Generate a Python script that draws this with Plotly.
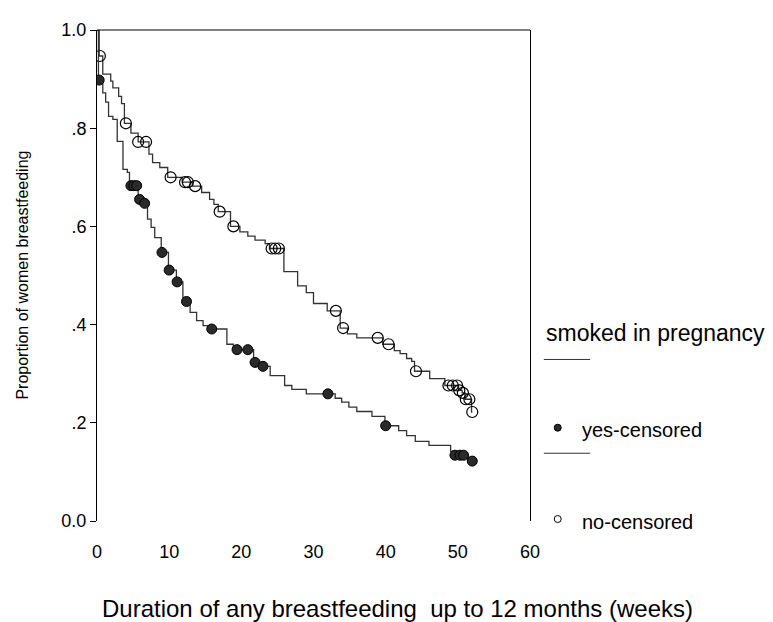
import numpy as np
import plotly.graph_objects as go

# Kaplan-Meier steps (weeks, proportion still breastfeeding)
yes_time = [0, 0.2, 0.8, 1.2, 1.6, 2.2, 2.8, 3.6, 4.2, 4.5, 5.7, 6.3, 7.0, 7.5, 8.0,
            8.9, 9.9, 11.0, 11.9, 12.9, 13.8, 14.7, 15.5, 18.0, 18.9, 21.7, 22.5,
            24.0, 26.0, 27.0, 29.0, 33.0, 33.9, 34.9, 36.0, 38.1, 39.9, 41.8, 42.9,
            44.1, 46.0, 49.0, 49.4, 51.4]
yes_surv = [1.0, 0.898, 0.872, 0.853, 0.824, 0.818, 0.773, 0.716, 0.71, 0.683, 0.655,
            0.647, 0.615, 0.598, 0.577, 0.547, 0.511, 0.487, 0.447, 0.425, 0.408,
            0.398, 0.391, 0.36, 0.349, 0.323, 0.315, 0.296, 0.276, 0.268, 0.259,
            0.25, 0.242, 0.232, 0.223, 0.213, 0.194, 0.184, 0.174, 0.162, 0.154,
            0.142, 0.134, 0.122]
yes_censored = [0.3, 4.7, 5.1, 5.5, 5.9, 6.6, 9.0, 10.0, 11.1, 12.4, 15.9, 19.4, 20.9,
                21.9, 23.0, 32.0, 40.0, 49.6, 50.3, 50.8, 52.0]

no_time = [0, 0.3, 0.8, 1.9, 2.2, 3.0, 3.4, 3.8, 4.7, 5.7, 7.2, 7.7, 8.7, 9.8, 11.8,
           13.2, 14.5, 15.6, 16.2, 16.8, 18.5, 19.8, 20.9, 21.9, 23.3, 23.9, 25.9,
           27.8, 29.0, 30.0, 31.9, 33.7, 34.7, 36.0, 39.6, 41.2, 42.0, 42.9, 43.6,
           44.0, 46.1, 48.2, 50.1, 50.6, 51.0, 51.9]
no_surv = [1.0, 0.947, 0.91, 0.896, 0.882, 0.865, 0.85, 0.81, 0.79, 0.772, 0.747,
           0.73, 0.72, 0.70, 0.69, 0.682, 0.669, 0.655, 0.645, 0.63, 0.60, 0.589,
           0.58, 0.572, 0.565, 0.555, 0.508, 0.479, 0.465, 0.443, 0.428, 0.393,
           0.381, 0.373, 0.36, 0.347, 0.341, 0.331, 0.325, 0.305, 0.29, 0.276,
           0.266, 0.261, 0.248, 0.222]
no_censored = [0.4, 4.0, 5.7, 6.8, 10.2, 12.2, 12.6, 13.6, 17.0, 18.9, 24.2, 24.7,
               25.2, 33.1, 34.1, 38.9, 40.4, 44.2, 48.7, 49.3, 49.9, 50.2, 50.7,
               51.1, 51.6, 52.0]

x_ticks = [0, 10, 20, 30, 40, 50, 60]
y_ticks = [0, 0.2, 0.4, 0.6, 0.8, 1.0]
y_tick_text = ["0.0", ".2", ".4", ".6", ".8", "1.0"]

FONT = "Liberation Sans, Arial, sans-serif"
LINE = "#333333"


def on_curve(times, surv, cens):
    idx = np.searchsorted(times, cens, side="right") - 1
    return [surv[i] for i in idx]


def add_group(fig, times, surv, cens, marker):
    xs = list(times) + [cens[-1]]
    ys = list(surv) + [surv[-1]]
    fig.add_trace(go.Scatter(x=xs, y=ys, mode="lines", line_shape="hv",
                             line=dict(color=LINE, width=1.3), showlegend=False))
    fig.add_trace(go.Scatter(x=cens, y=on_curve(times, surv, cens), mode="markers",
                             marker=marker, showlegend=False))


fig = go.Figure()
add_group(fig, no_time, no_surv, no_censored,
          dict(symbol="circle-open", size=11, color="black", line=dict(width=1.2)))
add_group(fig, yes_time, yes_surv, yes_censored,
          dict(symbol="circle", size=10, color="#2a2a2a",
               line=dict(color="black", width=1)))

# page body adds an 8px margin, so the figure is 8px smaller and shifted
fig.update_layout(
    width=765, height=614,
    margin=dict(l=89, r=243, t=12, b=101),
    plot_bgcolor="white", paper_bgcolor="white",
    font=dict(family=FONT, color="black"),
)
fig.update_xaxes(range=[0, 60], tickvals=x_ticks, showgrid=False, zeroline=False,
                 showline=False, ticks="", tickfont=dict(size=18),
                 ticklabelstandoff=18)
fig.update_yaxes(range=[0, 1], tickvals=y_ticks, ticktext=y_tick_text,
                 showgrid=False, zeroline=False, showline=True, mirror=True,
                 linecolor="black", linewidth=1, ticks="outside", ticklen=6,
                 tickcolor="black", tickfont=dict(size=18))

fig.add_shape(type="line", xref="paper", yref="paper", x0=0, x1=1, y0=1, y1=1,
              line=dict(color="black", width=1))

fig.add_annotation(text="Proportion of women breastfeeding", xref="paper", yref="paper",
                   x=-0.173, y=0.5, textangle=-90, showarrow=False,
                   xanchor="center", yanchor="middle", font=dict(size=16))
fig.add_annotation(text="Duration of any breastfeeding\u00a0 up to 12 months (weeks)",
                   xref="paper", yref="paper", x=0.693, y=-0.178, showarrow=False,
                   xanchor="center", yanchor="middle", font=dict(size=24))

# legend drawn by hand, SPSS style
fig.add_annotation(text="smoked in pregnancy", xref="paper", yref="paper",
                   x=1.032, y=0.383, showarrow=False, xanchor="left",
                   yanchor="middle", font=dict(size=23))
for yp in (0.329, 0.138):
    fig.add_shape(type="line", xref="paper", yref="paper", x0=1.032, x1=1.139,
                  y0=yp, y1=yp, line=dict(color=LINE, width=1))
fig.add_shape(type="circle", xref="paper", yref="paper", xsizemode="pixel",
              ysizemode="pixel", xanchor=1.064, yanchor=0.19, x0=-3.5, x1=3.5,
              y0=-3.5, y1=3.5, fillcolor="#2a2a2a", line=dict(color="black", width=1))
fig.add_shape(type="circle", xref="paper", yref="paper", xsizemode="pixel",
              ysizemode="pixel", xanchor=1.064, yanchor=0.004, x0=-3.5, x1=3.5,
              y0=-3.5, y1=3.5, fillcolor="white", line=dict(color="black", width=1))
fig.add_annotation(text="yes-censored", xref="paper", yref="paper", x=1.115, y=0.186,
                   showarrow=False, xanchor="left", yanchor="middle",
                   font=dict(size=20))
fig.add_annotation(text="no-censored", xref="paper", yref="paper", x=1.115, y=-0.002,
                   showarrow=False, xanchor="left", yanchor="middle",
                   font=dict(size=20))

fig.write_html("out.html")
